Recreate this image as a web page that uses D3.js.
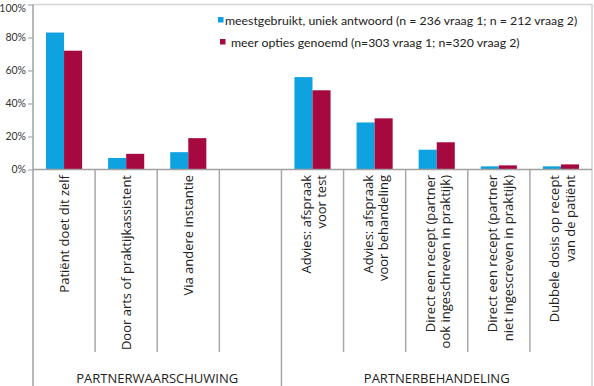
<!DOCTYPE html>
<html><head><meta charset="utf-8">
<script src="https://cdn.jsdelivr.net/npm/d3@7"></script>
<style>
html,body{margin:0;padding:0;background:#fff;}
svg{display:block;font-family:"Open Sans",sans-serif;}
</style></head>
<body>
<svg id="c" width="594" height="386"></svg>
<script>
// ---- data ----
const categories = [
  ["Patiënt doet dit zelf"],
  ["Door arts of praktijkassistent"],
  ["Via andere instantie"],
  [],
  ["Advies: afspraak", "voor test"],
  ["Advies: afspraak", "voor behandeling"],
  ["Direct een recept (partner", "ook ingeschreven in praktijk)"],
  ["Direct een recept (partner", "niet ingescreven in praktijk)"],
  ["Dubbele dosis op recept", "van de patiënt"]
];
const seriesNames = [
  "meestgebruikt, uniek antwoord (n = 236 vraag 1; n = 212 vraag 2)",
  "meer opties genoemd (n=303 vraag 1; n=320 vraag 2)"
];
const uniek = [0.83, 0.07, 0.105, null, 0.56, 0.285, 0.12, 0.019, 0.019];
const meer  = [0.72, 0.095, 0.19, null, 0.48, 0.31, 0.165, 0.025, 0.031];
const groups = [
  {label: "PARTNERWAARSCHUWING", from: 0, to: 4},
  {label: "PARTNERBEHANDELING", from: 4, to: 9}
];
const yTicks = [0, 0.2, 0.4, 0.6, 0.8, 1.0];
const colors = ["#0ea2e0", "#a6093f"];

// ---- layout ----
const svg = d3.select("#c");
const L = 33, R = 592, T = 4.5, B = 169.5;
const idx = d3.range(categories.length);
const x = d3.scaleBand().domain(idx).range([L, R]).paddingInner(0).paddingOuter(0);
const x1 = d3.scaleBand().domain([0, 1]).range([0, x.bandwidth()]).paddingInner(0).paddingOuter(0.72);
const y = d3.scaleLinear().domain([0, 1]).range([B, T]);

// plot border (top + right)
svg.append("path").attr("d", `M${L},${T}H${R}V386`)
  .attr("fill", "none").attr("stroke", "#d4d4d4").attr("stroke-width", 1.5);

// bars
const vals = [uniek, meer];
vals.forEach((arr, s) => {
  svg.append("g").selectAll("rect")
    .data(idx.filter(i => arr[i] != null))
    .join("rect")
    .attr("x", i => x(i) + x1(s))
    .attr("width", x1.bandwidth())
    .attr("y", i => y(arr[i]))
    .attr("height", i => y(0) - y(arr[i]))
    .attr("fill", colors[s]);
});

// y axis
const yAxis = d3.axisLeft(y).tickValues(yTicks).tickFormat(d3.format(".0%")).tickSize(5).tickPadding(2);
const gy = svg.append("g").attr("transform", `translate(${L},0)`).call(yAxis);
gy.select(".domain").remove();
gy.selectAll(".tick line").attr("stroke", "#999");
gy.selectAll(".tick text").attr("font-size", 10.5).attr("fill", "#333")
  .attr("font-family", "Lato, sans-serif")
  .attr("dy", d => d === 1 ? "0.62em" : "0.32em");

// axis lines
svg.append("line").attr("x1", L).attr("x2", L).attr("y1", T).attr("y2", 386)
  .attr("stroke", "#a0a0a0").attr("stroke-width", 1.5);
svg.append("line").attr("x1", L).attr("x2", R).attr("y1", B).attr("y2", B)
  .attr("stroke", "#a0a0a0").attr("stroke-width", 1.5);

// category boundaries
const groupEdges = new Set(groups.map(g => g.from).concat(groups.map(g => g.to)));
d3.range(1, categories.length).forEach(i => {
  const xx = x(i);
  svg.append("line").attr("x1", xx).attr("x2", xx).attr("y1", B)
    .attr("y2", groupEdges.has(i) ? 386 : 352)
    .attr("stroke", "#a8a8a8").attr("stroke-width", 1.5);
});

// category labels (rotated)
const lineH = 15.5;
idx.forEach(i => {
  const lines = categories[i];
  const cx = x(i) + x.bandwidth() / 2;
  const n = lines.length;
  lines.forEach((t, k) => {
    const off = (k - (n - 1) / 2) * lineH + (n > 1 ? 1.5 : 0);
    svg.append("text")
      .attr("transform", `translate(${cx + off + 4.5},175) rotate(-90)`)
      .attr("text-anchor", "end")
      .attr("font-size", 13).attr("fill", "#222")
      .text(t);
  });
});

// group labels
groups.forEach(g => {
  const gx = (x(g.from) + (g.to < categories.length ? x(g.to) : R)) / 2;
  svg.append("text").attr("x", gx).attr("y", 383).attr("text-anchor", "middle")
    .attr("font-size", 13).attr("fill", "#222").text(g.label);
});

// legend
const leg = [{sx: 218, sy: 17, tx: 225, ty: 24.5}, {sx: 220, sy: 39, tx: 231, ty: 46.5}];
seriesNames.forEach((name, s) => {
  svg.append("rect").attr("x", leg[s].sx).attr("y", leg[s].sy).attr("width", 5.5).attr("height", 5.5).attr("fill", colors[s]);
  svg.append("text").attr("x", leg[s].tx).attr("y", leg[s].ty).attr("font-size", 12.3)
    .attr("font-family", "Lato, sans-serif").attr("fill", "#222").text(name);
});
</script>
</body></html>
